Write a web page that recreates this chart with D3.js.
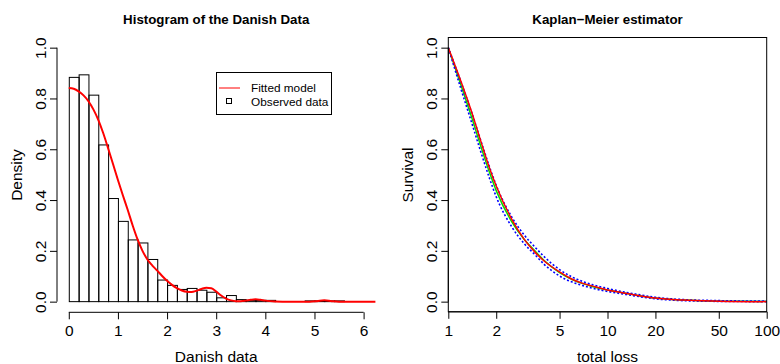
<!DOCTYPE html>
<html><head><meta charset="utf-8">
<script src="https://cdn.jsdelivr.net/npm/d3@7"></script>
<style>
html,body{margin:0;padding:0;background:#fff;}
svg{display:block;font-family:"Liberation Sans",Arial,Helvetica,sans-serif;}
</style></head>
<body>
<svg id="chart" width="780" height="364"></svg>
<script>
// ---------- DATA ----------
// Histogram (left): bin starts, bin width 0.2, densities
const binStarts = [0,0.2,0.4,0.6,0.8,1.0,1.2,1.4,1.6,1.8,2.0,2.2,2.4,2.6,2.8,3.0,3.2,3.4,3.6,3.8,4.0,4.2,4.4,4.6,4.8,5.0,5.2,5.4];
const binEnds   = [0.2,0.4,0.6,0.8,1.0,1.2,1.4,1.6,1.8,2.0,2.2,2.4,2.6,2.8,3.0,3.2,3.4,3.6,3.8,4.0,4.2,4.4,4.6,4.8,5.0,5.2,5.4,5.6];
const binDensity = [0.883,0.893,0.813,0.617,0.406,0.316,0.243,0.231,0.166,0.085,0.064,0.048,0.052,0.045,0.037,0.015,0.024,0.008,0.005,0.005,0.005,0,0,0,0.003,0.003,0.003,0.003];
// Fitted density curve
const fitX = [0,0.1,0.2,0.3,0.4,0.5,0.6,0.7,0.8,0.9,1.0,1.1,1.2,1.3,1.4,1.5,1.6,1.7,1.8,1.9,2.0,2.1,2.2,2.3,2.4,2.5,2.6,2.7,2.8,2.9,3.0,3.1,3.2,3.3,3.4,3.5,3.6,3.7,3.8,3.9,4.0,4.2,4.5,4.9,5.05,5.2,5.35,5.5,6.5];
const fitY = [0.841,0.838,0.828,0.812,0.789,0.757,0.716,0.664,0.604,0.542,0.479,0.419,0.361,0.300,0.245,0.200,0.166,0.142,0.122,0.101,0.082,0.066,0.053,0.044,0.039,0.038,0.043,0.050,0.055,0.053,0.040,0.024,0.012,0.005,0.002,0.002,0.004,0.007,0.009,0.007,0.004,0.001,0,0,0.002,0.005,0.002,0,0];
const histXTicks = [0,1,2,3,4,5,6];
const yTicks = [0,0.2,0.4,0.6,0.8,1.0];
const legendLabels = ["Fitted model","Observed data"];

// Kaplan-Meier (right)
const kmX     = [1,1.2,1.4,1.6,1.8,2,2.5,3,3.5,4,5,6,7,8,10,12,15,20,30,50,100];
const fitted  = [1,0.868,0.748,0.632,0.532,0.455,0.325,0.245,0.195,0.16,0.117,0.088,0.072,0.062,0.046,0.037,0.026,0.014,0.006,0.002,0];
const kmEst   = [1,0.853,0.727,0.612,0.515,0.437,0.315,0.245,0.2,0.162,0.114,0.087,0.071,0.06,0.046,0.037,0.026,0.014,0.006,0.002,0.001];
const kmUpper = [1,0.866,0.746,0.634,0.537,0.458,0.334,0.262,0.215,0.177,0.126,0.097,0.079,0.067,0.052,0.041,0.030,0.017,0.008,0.004,0.002];
const kmLower = [1,0.838,0.706,0.59,0.492,0.413,0.295,0.228,0.185,0.147,0.101,0.077,0.063,0.053,0.040,0.032,0.022,0.011,0.004,0.001,0.0];
const kmXTicks = [1,2,5,10,20,50,100];

// ---------- DRAW ----------
const svg = d3.select("#chart");
const font = 15.5;

// ===== Left panel =====
const L = {x0:57, x1:375.4, y0:37.5, y1:311.8};
const xH = d3.scaleLinear().domain([-0.24,6.24]).range([L.x0,L.x1]);
const yH = d3.scaleLinear().domain([-0.04,1.04]).range([L.y1,L.y0]);

svg.append("defs").append("clipPath").attr("id","clipL")
  .append("rect").attr("x",L.x0).attr("y",L.y0).attr("width",L.x1-L.x0).attr("height",L.y1-L.y0);

svg.append("g").selectAll("rect").data(binStarts).join("rect")
  .attr("x",(d,i)=>xH(d)+0.5)
  .attr("y",(d,i)=>yH(binDensity[i]))
  .attr("width",(d,i)=>xH(binEnds[i])-xH(d))
  .attr("height",(d,i)=>yH(0)-yH(binDensity[i]))
  .attr("fill","none").attr("stroke","#000").attr("stroke-width",1);

svg.append("path").attr("clip-path","url(#clipL)")
  .datum(fitX.map((x,i)=>[x,fitY[i]]))
  .attr("d",d3.line().x(d=>xH(d[0])).y(d=>yH(d[1])).curve(d3.curveMonotoneX))
  .attr("fill","none").attr("stroke","#ff0000").attr("stroke-width",2);

// x axis
const gxL = svg.append("g").attr("transform",`translate(0,${L.y1+0.5})`)
  .call(d3.axisBottom(xH).tickValues(histXTicks).tickFormat(d3.format("d")).tickSize(7).tickPadding(6));
// y axis
const gyL = svg.append("g").attr("transform",`translate(${L.x0},0)`)
  .call(d3.axisLeft(yH).tickValues(yTicks).tickFormat(d3.format(".1f")).tickSize(7).tickPadding(0));

function styleAxis(g, vertical){
  g.selectAll(".domain").attr("stroke","#000");
  g.selectAll(".tick line").attr("stroke","#000");
  g.selectAll("text").attr("font-size",font).attr("font-family","Liberation Sans, Arial, sans-serif").attr("fill","#000");
  if(vertical){
    g.selectAll(".tick text")
      .attr("x",null).attr("dy",null)
      .attr("transform","translate(-17,0) rotate(-90)")
      .attr("text-anchor","middle")
      .attr("dominant-baseline","central");
  }
}
// custom domain lines (R style: from first to last tick)
gxL.select(".domain").attr("d",`M${xH(0)},0H${xH(6)}`);
gyL.select(".domain").attr("d",`M0,${yH(0)}V${yH(1)}`);
styleAxis(gxL,false); styleAxis(gyL,true);

svg.append("text").attr("x",(L.x0+L.x1)/2).attr("y",24).attr("text-anchor","middle")
  .attr("font-weight","bold").attr("font-size",13.3).text("Histogram of the Danish Data");
svg.append("text").attr("x",(L.x0+L.x1)/2).attr("y",362).attr("text-anchor","middle")
  .attr("font-size",font).text("Danish data");
svg.append("text").attr("transform",`translate(22,175) rotate(-90)`).attr("text-anchor","middle")
  .attr("font-size",font).text("Density");

// legend
const lg = svg.append("g");
lg.append("rect").attr("x",216.5).attr("y",72.5).attr("width",115).attr("height",42)
  .attr("fill","#fff").attr("stroke","#000");
lg.append("line").attr("x1",219).attr("x2",240).attr("y1",88).attr("y2",88).attr("stroke","#ff0000").attr("stroke-width",1);
lg.append("rect").attr("x",226.5).attr("y",98.5).attr("width",5).attr("height",5).attr("fill","none").attr("stroke","#000");
lg.selectAll("text.lt").data(legendLabels).join("text").attr("class","lt")
  .attr("x",251).attr("y",(d,i)=>88+i*13.5).attr("dominant-baseline","central")
  .attr("font-size",11.8).text(d=>d);

// ===== Right panel =====
const R = {x0:448.3, x1:766.7, y0:37.5, y1:311.8};
const xK = d3.scaleLog().domain([1,100]).range([R.x0,R.x1]);
const yK = d3.scaleLinear().domain([-0.04,1.04]).range([R.y1,R.y0]);

svg.select("defs").append("clipPath").attr("id","clipR")
  .append("rect").attr("x",R.x0).attr("y",R.y0).attr("width",R.x1-R.x0).attr("height",R.y1-R.y0);

const lineK = d3.line().x(d=>xK(d[0])).y(d=>yK(d[1])).curve(d3.curveMonotoneX);
const gR = svg.append("g").attr("clip-path","url(#clipR)");
gR.append("path").datum(kmX.map((x,i)=>[x,kmEst[i]])).attr("d",lineK)
  .attr("fill","none").attr("stroke","#00dd00").attr("stroke-width",1.5);
gR.append("path").datum(kmX.map((x,i)=>[x,kmUpper[i]])).attr("d",lineK)
  .attr("fill","none").attr("stroke","#0000ff").attr("stroke-width",1.6).attr("stroke-dasharray","2,2");
gR.append("path").datum(kmX.map((x,i)=>[x,kmLower[i]])).attr("d",lineK)
  .attr("fill","none").attr("stroke","#0000ff").attr("stroke-width",1.6).attr("stroke-dasharray","2,2");
gR.append("path").datum(kmX.map((x,i)=>[x,fitted[i]])).attr("d",lineK)
  .attr("fill","none").attr("stroke","#ff0000").attr("stroke-width",1.5);

svg.append("rect").attr("x",R.x0).attr("y",R.y0).attr("width",R.x1-R.x0).attr("height",R.y1-R.y0)
  .attr("fill","none").attr("stroke","#000");

const gxR = svg.append("g").attr("transform",`translate(0,${R.y1})`)
  .call(d3.axisBottom(xK).tickValues(kmXTicks).tickFormat(d3.format("d")).tickSize(7).tickPadding(6));
gxR.select(".domain").attr("d",`M${xK(1)},0H${xK(100)}`);
const gyR = svg.append("g").attr("transform",`translate(${R.x0},0)`)
  .call(d3.axisLeft(yK).tickValues(yTicks).tickFormat(d3.format(".1f")).tickSize(7).tickPadding(0));
gyR.select(".domain").attr("d",`M0,${yK(0)}V${yK(1)}`);
styleAxis(gxR,false); styleAxis(gyR,true);

svg.append("text").attr("x",(R.x0+R.x1)/2).attr("y",24).attr("text-anchor","middle")
  .attr("font-weight","bold").attr("font-size",13.3).text("Kaplan\u2212Meier estimator");
svg.append("text").attr("x",(R.x0+R.x1)/2).attr("y",362).attr("text-anchor","middle")
  .attr("font-size",font).text("total loss");
svg.append("text").attr("transform",`translate(413,175) rotate(-90)`).attr("text-anchor","middle")
  .attr("font-size",font).text("Survival");
</script>
</body></html>
